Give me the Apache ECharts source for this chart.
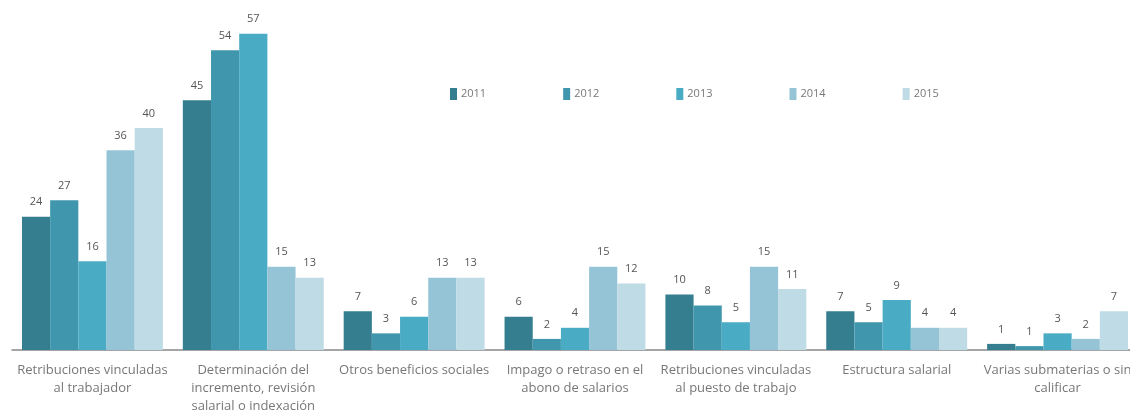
<!DOCTYPE html>
<html><head><meta charset="utf-8">
<script src="https://cdn.jsdelivr.net/npm/echarts@6/dist/echarts.min.js"></script>
<style>html,body{margin:0;padding:0;background:#fff}#c{width:1130px;height:410px}</style>
</head><body><div id="c"></div>
<script>
const categories = [
  "Retribuciones vinculadas\nal trabajador",
  "Determinación del\nincremento, revisión\nsalarial o indexación",
  "Otros beneficios sociales",
  "Impago o retraso en el\nabono de salarios",
  "Retribuciones vinculadas\nal puesto de trabajo",
  "Estructura salarial",
  "Varias submaterias o sin\ncalificar"
];
const years = ["2011", "2012", "2013", "2014", "2015"];
const v2011 = [24, 45, 7, 6, 10, 7, 1.1];
const v2012 = [27, 54, 3, 2, 8, 5, 0.7];
const v2013 = [16, 57, 6, 4, 5, 9, 3];
const v2014 = [36, 15, 13, 15, 15, 4, 2];
const v2015 = [40, 13, 13, 12, 11, 4, 7];
const values = [v2011, v2012, v2013, v2014, v2015];
const colors = ["#357e8f", "#4097ad", "#4aabc5", "#94c4d6", "#bfdbe6"];
const FONT = "'Open Sans', sans-serif";

const chart = echarts.init(document.getElementById('c'));
chart.setOption({
  animation: false,
  color: colors,
  legend: {
    left: 445, top: 83,
    itemWidth: 7, itemHeight: 12, itemGap: 77,
    icon: 'rect',
    textStyle: { color: '#777', fontSize: 11, fontFamily: FONT, padding: [0,0,0,-1] },
    data: years
  },
  grid: { left: 12, width: 1126, top: 17, bottom: 60, containLabel: false, outerBoundsMode: 'none' },
  xAxis: {
    type: 'category', data: categories,
    axisLine: { lineStyle: { color: '#888', width: 1.5 } },
    axisTick: { show: false },
    axisLabel: { color: '#777', fontSize: 13, fontFamily: FONT, lineHeight: 18, margin: 11, interval: 0 }
  },
  yAxis: { type: 'value', min: 0, max: 60, show: false, splitLine: { show: false } },
  series: years.map((y, i) => ({
    name: y, type: 'bar', data: values[i],
    barGap: '0%', barCategoryGap: '12.4%',
    label: {
      show: true, position: 'top', distance: 9,
      color: '#555', fontSize: 11, fontFamily: FONT,
      formatter: p => Math.round(p.value)
    }
  }))
});
</script></body></html>
